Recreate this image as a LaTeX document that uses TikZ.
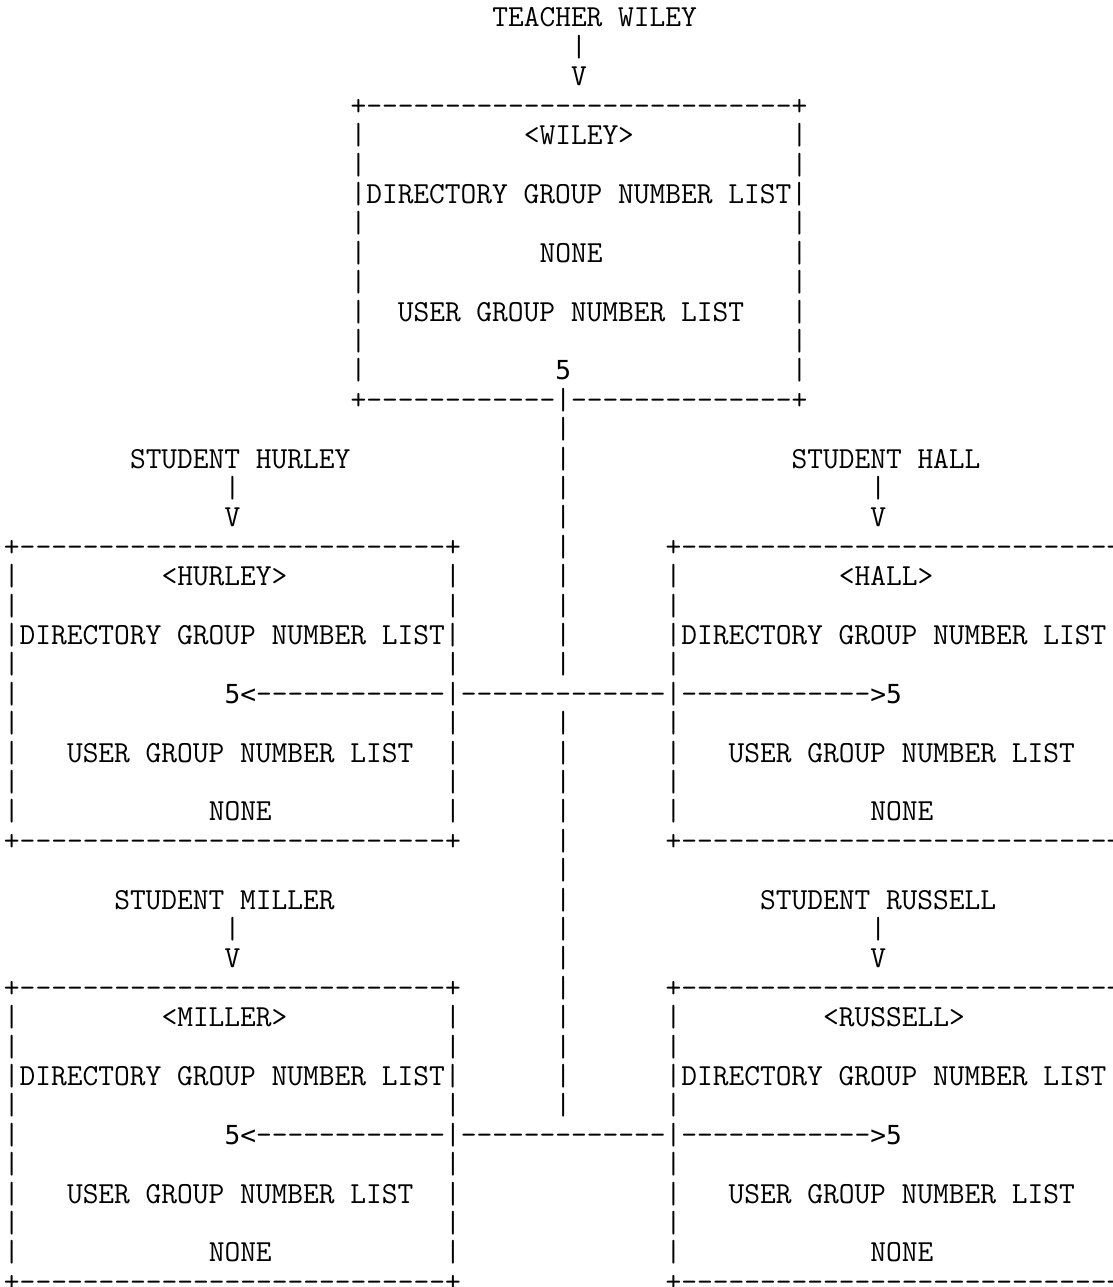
\documentclass[tikz,border=0pt]{standalone}
\usepackage{fontspec}
\newfontfamily\dvsfont{DejaVu Sans Mono}
\newcommand\MonoFont{\ttfamily\fontsize{30.58pt}{29.4pt}\selectfont\spaceskip 15.75pt\relax\xspaceskip 15.75pt\relax}
\newcommand\Txt[3]{\node[txt] (t-#1-#2) at ({4+15.75*#2},{27+29.4*(#1-1)}) {#3};}
\newcommand\Sns[3]{\node[sns] (s-#1-#2) at ({4+15.75*#2},{27+29.4*(#1-1)}) {#3};}
\newcommand\Dashes[3]{\foreach \cc in {#2,...,#3}{\Txt{#1}{\cc}{-}}}
\newcommand\Bars[2]{\foreach \cc in {#2}{\Txt{#1}{\cc}{|}}}
\newcommand\BoxEdge[2]{\Txt{#1}{#2}{+}\pgfmathtruncatemacro\ea{#2+1}\pgfmathtruncatemacro\eb{#2+27}\pgfmathtruncatemacro\ec{#2+28}\Dashes{#1}{\ea}{\eb}\Txt{#1}{\ec}{+}}
\begin{document}
\begin{tikzpicture}[x=1pt,y=-1pt,
  txt/.style={anchor=base west,inner sep=0pt,outer sep=0pt,text=black,font=\MonoFont},
  sns/.style={txt,font=\dvsfont\fontsize{26.2pt}{29.4pt}\selectfont}]
\useasboundingbox (0,0) rectangle (1112,1287);
\fill[white] (0,0) rectangle (1112,1287);
\clip (0,0) rectangle (1112,1287);
% teacher
\Txt{1}{31}{TEACHER WILEY}
\Txt{2}{36}{|}
\Txt{3}{36}{V}
\BoxEdge{4}{22}
\Bars{5}{22,50}\Txt{5}{33}{<WILEY>}
\Bars{6}{22,50}
\Txt{7}{22}{|DIRECTORY GROUP NUMBER LIST|}
\Bars{8}{22,50}
\Bars{9}{22,50}\Txt{9}{34}{NONE}
\Bars{10}{22,50}
\Bars{11}{22,50}\Txt{11}{25}{USER GROUP NUMBER LIST}
\Bars{12}{22,50}
\Bars{13}{22,50}\Sns{13}{35}{5}
\Txt{14}{22}{+}\Dashes{14}{23}{34}\Txt{14}{35}{|}\Dashes{14}{36}{49}\Txt{14}{50}{+}
\Bars{15}{35}
% hurley / hall
\Txt{16}{8}{STUDENT HURLEY}\Bars{16}{35}\Txt{16}{50}{STUDENT HALL}
\Bars{17}{14,35,55}
\Txt{18}{14}{V}\Bars{18}{35}\Txt{18}{55}{V}
\BoxEdge{19}{0}\Bars{19}{35}\BoxEdge{19}{42}
\Bars{20}{0,28,35,42,70}\Txt{20}{10}{<HURLEY>}\Txt{20}{53}{<HALL>}
\Bars{21}{0,28,35,42,70}
\Txt{22}{0}{|DIRECTORY GROUP NUMBER LIST|}\Bars{22}{35}\Txt{22}{42}{|DIRECTORY GROUP NUMBER LIST|}
\Bars{23}{0,28,35,42,70}
\Bars{24}{0,28,42,70}\Sns{24}{14}{5}\Sns{24}{15}{<}\Dashes{24}{16}{27}\Dashes{24}{29}{41}\Dashes{24}{43}{54}\Sns{24}{55}{>}\Sns{24}{56}{5}
\Bars{25}{0,28,35,42,70}
\Bars{26}{0,28,35,42,70}\Txt{26}{4}{USER GROUP NUMBER LIST}\Txt{26}{46}{USER GROUP NUMBER LIST}
\Bars{27}{0,28,35,42,70}
\Bars{28}{0,28,35,42,70}\Txt{28}{13}{NONE}\Txt{28}{55}{NONE}
\BoxEdge{29}{0}\Bars{29}{35}\BoxEdge{29}{42}
\Bars{30}{35}
% miller / russell
\Txt{31}{7}{STUDENT MILLER}\Bars{31}{35}\Txt{31}{48}{STUDENT RUSSELL}
\Bars{32}{14,35,55}
\Txt{33}{14}{V}\Bars{33}{35}\Txt{33}{55}{V}
\BoxEdge{34}{0}\Bars{34}{35}\BoxEdge{34}{42}
\Bars{35}{0,28,35,42,70}\Txt{35}{10}{<MILLER>}\Txt{35}{52}{<RUSSELL>}
\Bars{36}{0,28,35,42,70}
\Txt{37}{0}{|DIRECTORY GROUP NUMBER LIST|}\Bars{37}{35}\Txt{37}{42}{|DIRECTORY GROUP NUMBER LIST|}
\Bars{38}{0,28,35,42,70}
\Bars{39}{0,28,42,70}\Sns{39}{14}{5}\Sns{39}{15}{<}\Dashes{39}{16}{27}\Dashes{39}{29}{41}\Dashes{39}{43}{54}\Sns{39}{55}{>}\Sns{39}{56}{5}
\Bars{40}{0,28,42,70}
\Bars{41}{0,28,42,70}\Txt{41}{4}{USER GROUP NUMBER LIST}\Txt{41}{46}{USER GROUP NUMBER LIST}
\Bars{42}{0,28,42,70}
\Bars{43}{0,28,42,70}\Txt{43}{13}{NONE}\Txt{43}{55}{NONE}
\BoxEdge{44}{0}\BoxEdge{44}{42}
\end{tikzpicture}
\end{document}
